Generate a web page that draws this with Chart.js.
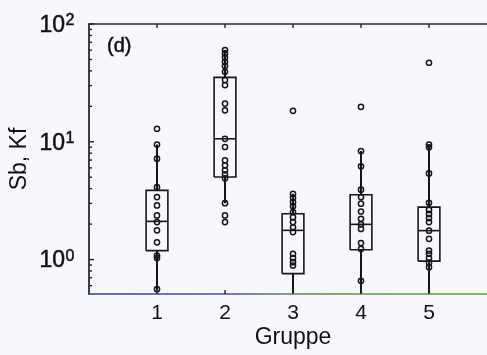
<!DOCTYPE html>
<html>
<head>
<meta charset="utf-8">
<script src="https://cdn.jsdelivr.net/npm/chart.js@4/dist/chart.umd.min.js"></script>
<style>
  html, body { margin: 0; padding: 0; background: #f7f8fc; overflow: hidden; }
  #wrap { width: 510px; height: 355px; }
</style>
</head>
<body>
<div id="wrap"><canvas id="c" width="510" height="355"></canvas></div>
<script>
// Groups on the x axis
const groups = ['1', '2', '3', '4', '5'];

// Individual measurements per group (Sb, Kf)
const g1 = [12.9, 9.47, 7.19, 4.12, 3.39, 2.88, 2.37, 2.08, 1.77, 1.40, 1.08, 1.03, 0.56];
const g2 = [60.1, 56.3, 52.1, 47.8, 43.9, 39.3, 33.4, 30.3, 21.1, 18.5, 10.6, 9.03, 6.96, 6.31, 5.72, 5.29, 4.89, 3.01, 2.37, 2.08];
const g3 = [18.3, 3.62, 3.35, 3.07, 2.83, 2.53, 2.29, 2.08, 1.88, 1.71, 1.12, 1.03, 0.95, 0.89];
const g4 = [19.8, 8.35, 6.19, 3.92, 3.39, 2.98, 2.56, 2.22, 1.99, 1.82, 1.38, 1.23, 0.66];
const g5 = [46.9, 9.47, 8.98, 5.39, 3.03, 2.64, 2.44, 2.25, 2.08, 1.76, 1.50, 1.19, 1.12, 1.03, 0.94, 0.86];

// Box plot statistics per group
const boxQ1   = [1.19, 5.02, 0.76, 1.21, 0.97];
const boxMed  = [2.11, 10.6, 1.77, 1.99, 1.76];
const boxQ3   = [3.87, 35.2, 2.45, 3.55, 2.79];
const whiskLo = [0.55, 3.01, 0.45, 0.45, 0.45];
const whiskHi = [9.47, 60.1, 3.62, 8.35, 9.47];

// Decade exponents labelled on the y axis
const yTickPowers = [0, 1, 2];

const panelTag = '(d)';
const allGroups = [g1, g2, g3, g4, g5];
const halfW = 0.16;
const ink = '#161616';
const fontFam = '"Liberation Sans", Arial, Helvetica, sans-serif';

const datasets = [];

// measurements as hollow circles (drawn on top)
datasets.push({
  type: 'scatter',
  data: allGroups.flatMap((vals, i) => vals.map(v => ({ x: i + 1, y: v }))),
  pointRadius: 2.6,
  pointBorderWidth: 1.5,
  pointBorderColor: ink,
  pointBackgroundColor: 'rgba(0,0,0,0)',
  showLine: false,
  order: 0
});

groups.forEach((g, i) => {
  const x = i + 1;
  // box outline
  datasets.push({
    type: 'scatter', showLine: true, order: 1,
    data: [
      { x: x - halfW, y: boxQ1[i] }, { x: x - halfW, y: boxQ3[i] },
      { x: x + halfW, y: boxQ3[i] }, { x: x + halfW, y: boxQ1[i] },
      { x: x - halfW, y: boxQ1[i] }
    ],
    borderColor: ink, borderWidth: 1.6, pointRadius: 0, fill: false
  });
  // median
  datasets.push({
    type: 'scatter', showLine: true, order: 1,
    data: [{ x: x - halfW, y: boxMed[i] }, { x: x + halfW, y: boxMed[i] }],
    borderColor: ink, borderWidth: 1.6, pointRadius: 0, fill: false
  });
  // whiskers
  datasets.push({
    type: 'scatter', showLine: true, order: 1, spanGaps: false,
    data: [
      { x: x, y: whiskLo[i] }, { x: x, y: boxQ1[i] },
      { x: x, y: null },
      { x: x, y: boxQ3[i] }, { x: x, y: whiskHi[i] }
    ],
    borderColor: ink, borderWidth: 2, pointRadius: 0, fill: false
  });
});

// frame, inward tick marks, y labels and panel tag
const framePlugin = {
  id: 'frame',
  afterDraw(chart) {
    const { ctx, chartArea: a, scales: { x: xs, y: ys } } = chart;
    ctx.save();
    ctx.lineCap = 'butt';

    // left axis
    ctx.strokeStyle = '#111';
    ctx.lineWidth = 1.6;
    ctx.beginPath(); ctx.moveTo(a.left, a.top - 0.8); ctx.lineTo(a.left, a.bottom + 0.8); ctx.stroke();

    // top axis
    ctx.strokeStyle = '#2a2438';
    ctx.beginPath(); ctx.moveTo(a.left, a.top); ctx.lineTo(a.right, a.top); ctx.stroke();

    // bottom axis
    const grad = ctx.createLinearGradient(a.left, 0, a.right, 0);
    grad.addColorStop(0, '#3d3a8a');
    grad.addColorStop(0.35, '#4f4d9a');
    grad.addColorStop(0.5, '#5f8a5a');
    grad.addColorStop(1, '#5aa03c');
    ctx.strokeStyle = grad;
    ctx.beginPath(); ctx.moveTo(a.left, a.bottom); ctx.lineTo(a.right, a.bottom); ctx.stroke();

    // x ticks, inward on bottom and top
    ctx.strokeStyle = '#222';
    ctx.lineWidth = 1.4;
    groups.forEach((g, i) => {
      const px = xs.getPixelForValue(i + 1);
      ctx.beginPath(); ctx.moveTo(px, a.bottom); ctx.lineTo(px, a.bottom - 4); ctx.stroke();
      ctx.beginPath(); ctx.moveTo(px, a.top); ctx.lineTo(px, a.top + 4); ctx.stroke();
    });

    // y ticks: decades and minor log ticks
    for (let d = -1; d <= 2; d++) {
      for (let m = 1; m <= 9; m++) {
        const v = m * Math.pow(10, d);
        if (v < ys.min || v > ys.max) continue;
        const py = ys.getPixelForValue(v);
        const len = m === 1 ? 5 : 3;
        ctx.beginPath(); ctx.moveTo(a.left, py); ctx.lineTo(a.left + len, py); ctx.stroke();
      }
    }

    // y tick labels with exponents
    ctx.fillStyle = '#111';
    ctx.strokeStyle = '#111';
    ctx.lineWidth = 0.5;
    yTickPowers.forEach(p => {
      const py = ys.getPixelForValue(Math.pow(10, p));
      ctx.font = '23px ' + fontFam;
      ctx.textAlign = 'right';
      ctx.textBaseline = 'middle';
      ctx.fillText('10', 65, py + 1.5);
      ctx.strokeText('10', 65, py + 1.5);
      ctx.font = '16px ' + fontFam;
      ctx.textAlign = 'left';
      ctx.textBaseline = 'alphabetic';
      ctx.fillText(String(p), 65.5, py + 1);
      ctx.strokeText(String(p), 65.5, py + 1);
    });

    // panel tag
    ctx.font = '20px ' + fontFam;
    ctx.textAlign = 'left';
    ctx.textBaseline = 'middle';
    ctx.fillText(panelTag, 107, 46);
    ctx.strokeText(panelTag, 107, 46);
    ctx.restore();
  }
};

new Chart(document.getElementById('c'), {
  type: 'scatter',
  data: { datasets },
  options: {
    responsive: false,
    animation: false,
    events: [],
    devicePixelRatio: 1,
    layout: { padding: { top: 24, right: 13, left: 0, bottom: 0 } },
    plugins: { legend: { display: false }, tooltip: { enabled: false } },
    scales: {
      x: {
        type: 'linear', min: 0, max: 6,
        grid: { display: false, drawTicks: false },
        border: { display: false },
        ticks: {
          stepSize: 1, padding: 7, color: '#111',
          font: { size: 21, family: fontFam },
          callback: v => groups[v - 1] ?? ''
        },
        title: {
          display: true, text: 'Gruppe', color: '#111',
          font: { size: 23, family: fontFam },
          padding: { top: 4, bottom: 4 }
        },
        afterFit: s => { s.height = 61; }
      },
      y: {
        type: 'logarithmic', min: 0.51, max: 100,
        grid: { display: false, drawTicks: false },
        border: { display: false },
        ticks: { display: false },
        title: {
          display: true, text: 'Sb, Kf', color: '#111',
          font: { size: 23, family: fontFam },
          padding: { top: 6, bottom: 4 }
        },
        afterFit: s => { s.width = 89; }
      }
    }
  },
  plugins: [framePlugin]
});
</script>
</body>
</html>
